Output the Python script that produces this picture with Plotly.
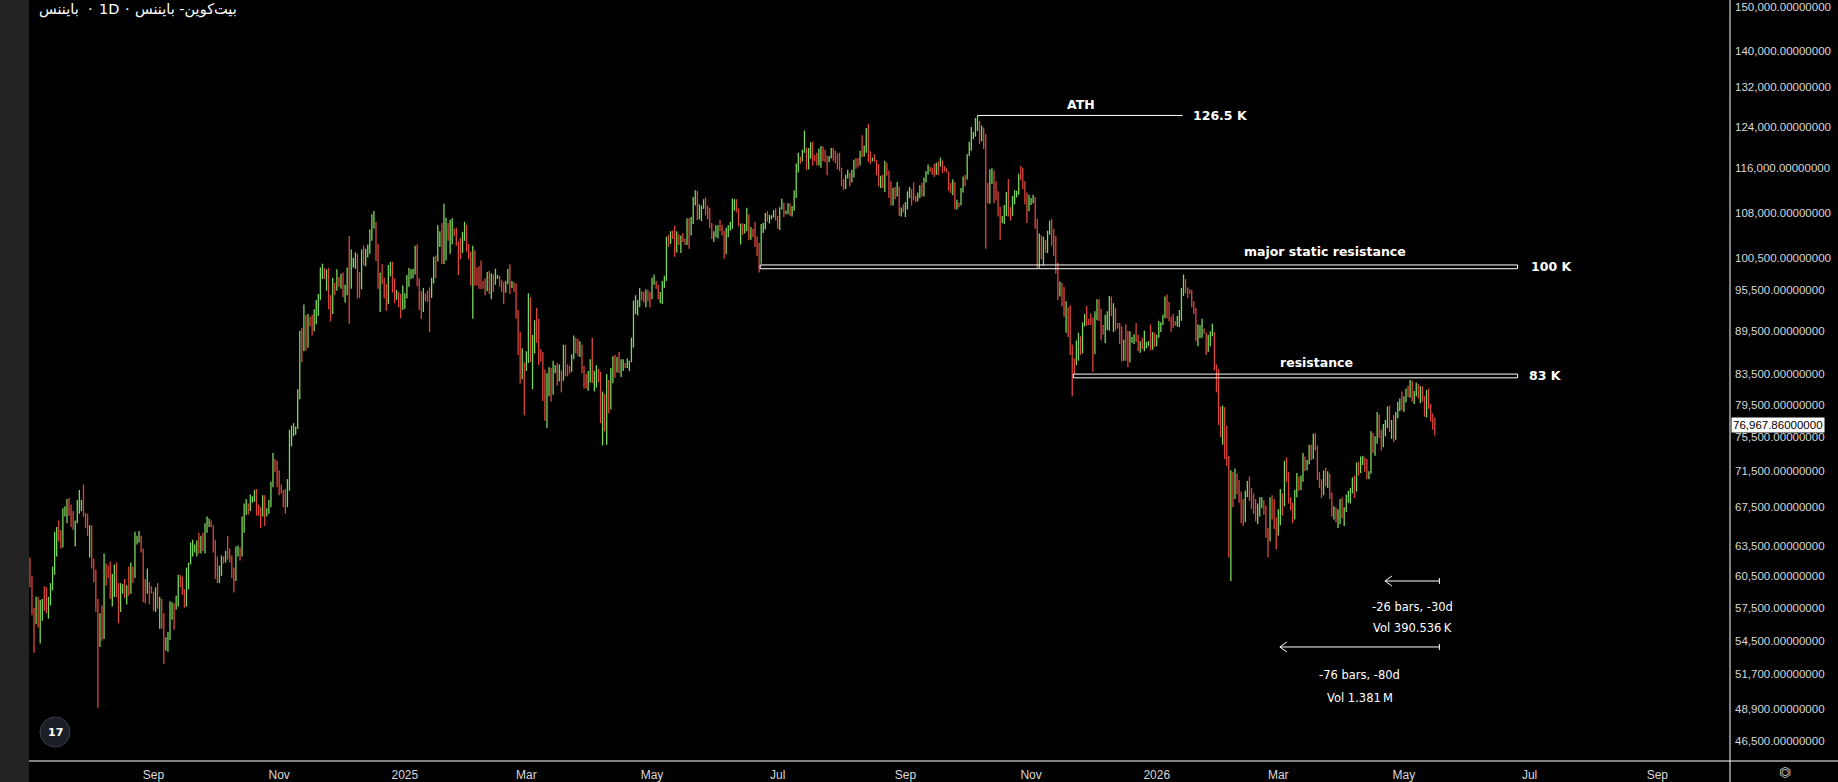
import math
import pandas as pd
import plotly.graph_objects as go

# ---------------- DATA (prices in thousands of USDT) ----------------
first_open = 62.1
month_starts = ["2024-07-03", "2024-08-01", "2024-09-01", "2024-10-01", "2024-11-01", "2024-12-01",
                "2025-01-01", "2025-02-01", "2025-03-01", "2025-04-01", "2025-05-01", "2025-06-01",
                "2025-07-01", "2025-08-01", "2025-09-01", "2025-10-01", "2025-11-01", "2025-12-01",
                "2026-01-01", "2026-02-01", "2026-03-01", "2026-04-01", "2026-05-01"]

c_2024_07 = [60.2, 57.0, 56.6, 58.2, 55.9, 56.7, 58.0, 57.7, 57.3, 57.9, 59.2, 60.8, 64.7, 65.0, 64.1, 63.9, 66.7, 67.2, 68.2, 67.6, 65.9, 65.4, 65.8, 67.9, 68.0, 68.3, 66.8, 66.2, 64.6]
h_2024_07 = [62.3, 60.5, 57.5, 58.5, 58.5, 58.2, 58.3, 59.5, 59.4, 58.5, 59.8, 61.4, 64.9, 65.4, 66.1, 65.1, 67.4, 67.6, 68.4, 68.5, 67.8, 67.1, 66.1, 68.3, 69.4, 68.3, 70.0, 66.9, 66.8]
l_2024_07 = [59.4, 56.8, 53.5, 56.0, 55.7, 54.3, 56.3, 57.2, 57.0, 56.5, 57.7, 59.1, 60.6, 62.4, 63.9, 63.2, 63.3, 66.5, 65.8, 66.6, 65.4, 65.1, 63.4, 65.8, 66.8, 67.1, 66.5, 65.3, 64.5]

c_2024_08 = [65.35, 61.5, 60.7, 58.1, 54.0, 56.0, 55.1, 61.7, 60.9, 60.9, 58.7, 59.35, 60.6, 58.7, 57.6, 58.9, 59.5, 58.4, 59.5, 59.0, 61.2, 60.4, 64.1, 64.2, 64.3, 62.9, 59.4, 59.0, 59.4, 59.1, 58.97]
h_2024_08 = [65.6, 65.6, 62.2, 61.1, 58.3, 57.0, 57.7, 62.7, 61.7, 61.5, 61.9, 60.7, 61.6, 61.8, 59.8, 59.8, 59.7, 60.2, 59.6, 61.4, 61.8, 61.4, 64.9, 64.5, 65.0, 64.5, 63.2, 60.2, 61.2, 59.9, 59.5]
l_2024_08 = [62.3, 61.2, 59.85, 57.1, 49.0, 54.0, 54.55, 54.7, 59.55, 60.3, 58.3, 57.6, 58.5, 58.45, 56.1, 57.1, 58.8, 58.4, 57.8, 58.6, 58.8, 59.8, 60.3, 63.6, 63.8, 62.8, 58.0, 57.9, 58.8, 57.8, 58.8]

c_2024_09 = [57.3, 59.1, 57.5, 57.97, 56.2, 53.95, 54.15, 54.8, 57.0, 57.6, 57.3, 58.1, 60.5, 60.0, 59.1, 58.2, 60.3, 61.8, 62.9, 63.2, 63.35, 63.6, 63.3, 64.3, 63.1, 65.2, 65.8, 65.8, 65.6, 63.3]
h_2024_09 = [59.0, 59.4, 59.8, 58.5, 58.3, 57.0, 54.85, 55.3, 58.1, 58.0, 57.9, 58.6, 60.6, 60.6, 60.4, 59.2, 61.3, 61.8, 63.8, 64.1, 63.6, 64.0, 64.8, 64.5, 64.8, 65.8, 66.5, 66.3, 66.1, 65.6]
l_2024_09 = [57.2, 57.1, 57.4, 55.6, 55.6, 52.55, 53.7, 53.6, 54.6, 56.4, 55.5, 57.3, 57.6, 59.4, 58.7, 57.5, 57.6, 59.2, 61.6, 62.4, 62.8, 62.4, 62.7, 62.7, 62.95, 62.7, 64.8, 65.4, 65.4, 62.8]

c_2024_10 = [60.8, 60.6, 60.75, 62.1, 62.05, 62.8, 62.2, 62.1, 60.6, 60.3, 62.45, 63.2, 62.85, 66.05, 67.0, 67.6, 67.4, 68.4, 68.4, 69.0, 67.4, 67.4, 66.65, 68.2, 66.6, 67.0, 68.0, 69.9, 72.7, 72.3, 70.2]
h_2024_10 = [64.1, 62.4, 61.5, 62.5, 62.4, 62.95, 64.5, 63.2, 62.5, 61.3, 63.4, 63.5, 63.3, 66.5, 67.9, 68.4, 67.9, 68.9, 68.7, 69.4, 69.5, 67.8, 67.5, 68.8, 68.8, 67.4, 68.3, 70.3, 73.6, 72.9, 72.7]
l_2024_10 = [60.2, 59.8, 59.8, 60.5, 61.7, 61.8, 62.1, 61.8, 60.3, 58.9, 60.0, 62.4, 62.0, 62.4, 64.8, 66.7, 66.7, 67.1, 68.0, 68.1, 66.6, 66.6, 65.3, 66.5, 65.5, 66.5, 66.8, 67.5, 69.7, 71.4, 69.7]

c_2024_11 = [69.5, 69.35, 68.8, 67.8, 69.4, 75.6, 75.9, 76.5, 76.7, 80.4, 88.7, 87.95, 90.4, 87.3, 91.0, 90.6, 89.85, 90.5, 92.3, 94.3, 98.3, 98.9, 97.7, 98.0, 93.0, 91.9, 95.9, 95.6, 97.5, 96.4]
h_2024_11 = [71.6, 70.0, 69.4, 69.5, 70.6, 76.4, 76.9, 77.2, 76.8, 81.5, 89.5, 89.9, 93.3, 91.8, 91.9, 91.5, 91.8, 92.6, 94.0, 94.9, 99.0, 99.6, 98.9, 98.7, 98.9, 94.7, 97.4, 96.6, 98.7, 97.5]
l_2024_11 = [68.8, 69.0, 67.5, 66.8, 67.5, 69.3, 74.4, 75.6, 75.8, 76.5, 80.2, 85.1, 86.6, 86.7, 87.1, 90.1, 88.8, 89.4, 90.4, 91.6, 94.0, 97.2, 97.2, 95.4, 92.6, 90.8, 91.9, 94.7, 95.4, 96.0]

c_2024_12 = [97.2, 95.8, 96.0, 98.6, 97.0, 99.9, 99.9, 101.1, 97.4, 96.6, 101.1, 100.0, 101.4, 101.4, 104.3, 106.05, 106.1, 100.2, 97.5, 97.75, 97.3, 95.1, 94.7, 98.7, 99.3, 95.8, 94.2, 95.2, 93.6, 92.8, 93.6]
h_2024_12 = [98.0, 98.2, 96.3, 99.0, 104.1, 101.9, 100.5, 101.4, 101.2, 98.3, 101.9, 102.5, 102.0, 102.7, 105.2, 107.8, 108.35, 106.5, 102.8, 98.2, 99.5, 97.4, 96.4, 99.4, 99.9, 99.9, 97.3, 95.5, 95.2, 94.9, 96.2]
l_2024_12 = [95.7, 94.4, 93.6, 94.7, 90.5, 95.7, 99.0, 98.8, 94.2, 94.3, 95.6, 99.3, 99.2, 100.6, 101.2, 103.3, 105.3, 100.0, 95.7, 92.2, 96.4, 94.2, 92.4, 93.4, 97.6, 95.1, 93.5, 94.0, 92.9, 91.3, 92.5]

c_2025_01 = [94.6, 97.0, 98.1, 98.2, 98.3, 102.2, 96.95, 95.0, 92.5, 94.7, 94.6, 94.5, 94.5, 96.5, 100.5, 99.99, 104.1, 104.5, 101.3, 102.3, 106.1, 103.65, 103.9, 104.8, 104.7, 102.6, 102.1, 101.3, 103.7, 104.7, 102.4]
h_2025_01 = [95.0, 97.8, 98.9, 98.7, 98.8, 102.5, 102.7, 97.3, 95.3, 95.8, 95.0, 95.4, 95.9, 97.4, 100.7, 100.9, 105.9, 104.9, 106.3, 109.6, 107.2, 106.3, 106.85, 107.1, 105.3, 105.5, 103.2, 103.8, 104.8, 106.5, 106.0]
l_2025_01 = [92.7, 94.2, 96.0, 97.2, 97.3, 97.9, 96.1, 92.5, 91.2, 92.2, 93.8, 93.7, 89.3, 94.3, 96.5, 97.3, 99.95, 102.3, 99.5, 99.55, 100.1, 103.3, 101.2, 102.75, 104.1, 102.5, 97.8, 100.3, 101.3, 103.3, 101.55]

c_2025_02 = [100.6, 97.7, 101.4, 97.9, 96.6, 96.5, 96.5, 96.5, 96.5, 97.4, 95.8, 97.9, 96.6, 97.5, 97.6, 96.1, 95.8, 95.5, 96.6, 98.3, 96.1, 96.6, 96.3, 91.5, 88.7, 84.25, 84.7, 84.35]
h_2025_02 = [102.8, 101.5, 102.5, 101.75, 99.0, 99.2, 100.1, 96.9, 97.3, 98.3, 98.5, 98.1, 97.9, 98.8, 97.8, 97.7, 97.0, 96.7, 96.9, 98.8, 99.5, 96.9, 96.7, 96.5, 92.5, 89.3, 87.0, 85.1]
l_2025_02 = [100.3, 96.2, 91.2, 96.15, 96.2, 95.7, 95.6, 95.7, 94.7, 95.3, 94.9, 94.1, 95.2, 96.3, 97.2, 96.0, 95.2, 93.4, 95.1, 96.4, 94.9, 95.8, 95.2, 91.2, 86.1, 82.25, 82.8, 78.2]

c_2025_03 = [86.1, 94.3, 86.1, 87.2, 90.6, 89.9, 86.7, 86.2, 80.7, 78.6, 82.9, 83.7, 81.1, 84.0, 84.3, 82.6, 84.0, 82.7, 86.85, 84.2, 84.1, 83.8, 86.1, 87.5, 87.4, 86.9, 87.2, 84.35, 82.6, 82.3, 82.55]
h_2025_03 = [86.6, 95.0, 94.4, 88.9, 91.0, 92.8, 91.2, 86.9, 86.5, 84.1, 83.6, 84.4, 84.3, 85.3, 84.7, 85.0, 84.8, 84.0, 87.5, 87.5, 84.8, 84.6, 86.2, 88.8, 88.5, 88.3, 88.0, 87.5, 84.6, 83.5, 83.9]
l_2025_03 = [83.9, 85.0, 85.1, 81.5, 86.3, 87.8, 84.7, 85.2, 80.0, 77.5, 76.6, 80.6, 79.9, 80.8, 83.6, 82.0, 82.5, 81.1, 82.6, 83.2, 83.2, 83.6, 83.8, 85.5, 86.3, 85.9, 85.8, 83.6, 81.6, 81.6, 81.3]

c_2025_04 = [85.2, 82.5, 83.1, 83.85, 83.5, 78.4, 79.2, 76.3, 82.6, 79.6, 83.4, 85.3, 83.7, 84.5, 83.6, 84.0, 84.9, 84.45, 85.1, 85.2, 87.5, 93.4, 93.7, 93.9, 94.7, 94.6, 93.75, 95.0, 94.3, 94.2]
h_2025_04 = [85.5, 88.5, 83.9, 84.7, 84.2, 83.8, 81.2, 80.9, 83.5, 82.7, 84.3, 85.9, 86.1, 85.8, 86.5, 85.5, 85.5, 85.0, 85.6, 85.3, 88.5, 93.9, 94.7, 94.0, 95.8, 95.3, 95.2, 95.6, 95.5, 95.2]
l_2025_04 = [82.4, 82.3, 81.2, 81.7, 82.4, 77.2, 74.5, 76.2, 74.6, 78.45, 78.9, 82.3, 83.0, 83.7, 83.6, 83.1, 83.9, 84.3, 84.3, 83.9, 85.1, 87.1, 91.9, 91.7, 92.9, 93.9, 93.6, 92.9, 93.8, 92.9]

c_2025_05 = [96.5, 96.9, 95.9, 94.3, 94.7, 96.8, 97.0, 103.2, 102.95, 104.6, 104.1, 102.8, 104.1, 103.5, 103.7, 103.5, 103.1, 106.45, 105.6, 106.8, 109.6, 111.7, 107.3, 107.8, 109.0, 109.4, 108.9, 107.8, 105.6, 104.0, 104.6]
h_2025_05 = [97.4, 97.9, 96.9, 96.3, 95.2, 96.9, 97.7, 104.0, 104.3, 104.9, 105.0, 105.8, 104.9, 104.4, 104.2, 104.6, 103.7, 107.1, 107.1, 107.3, 110.8, 112.0, 111.9, 109.5, 109.3, 110.4, 110.7, 109.3, 108.9, 106.3, 104.9]
l_2025_05 = [94.1, 96.3, 95.7, 94.1, 93.5, 93.4, 95.8, 96.9, 102.3, 102.8, 103.6, 100.7, 101.4, 102.6, 101.3, 103.1, 102.6, 102.6, 102.0, 104.2, 106.1, 109.3, 106.8, 106.9, 106.6, 108.7, 107.6, 106.9, 105.4, 103.6, 103.1]

c_2025_06 = [105.7, 105.8, 105.4, 104.7, 101.5, 104.3, 105.6, 105.7, 110.3, 110.3, 108.6, 105.7, 106.0, 105.4, 105.6, 106.8, 104.55, 104.9, 104.65, 103.3, 102.1, 101.0, 105.4, 106.0, 107.3, 106.95, 107.0, 107.3, 108.4, 107.1]
h_2025_06 = [105.9, 105.9, 106.8, 106.0, 105.0, 105.5, 105.9, 106.5, 110.5, 110.4, 110.4, 108.8, 106.2, 106.2, 106.1, 108.9, 107.8, 105.6, 105.3, 106.5, 104.0, 103.0, 106.1, 106.3, 108.0, 108.3, 107.7, 107.6, 108.5, 108.8]
l_2025_06 = [103.9, 103.7, 104.9, 104.2, 100.4, 101.1, 103.9, 105.0, 105.3, 108.4, 108.1, 105.7, 102.7, 104.3, 104.5, 104.9, 103.4, 103.5, 103.9, 102.3, 100.8, 98.2, 99.6, 104.6, 105.2, 106.5, 106.2, 106.9, 107.2, 106.7]

c_2025_07 = [105.7, 108.8, 109.6, 108.0, 108.2, 109.2, 108.2, 108.9, 111.3, 115.9, 117.5, 117.4, 119.1, 119.8, 117.7, 118.8, 119.3, 117.9, 117.9, 117.3, 117.4, 119.95, 118.75, 118.3, 117.6, 117.9, 119.4, 118.0, 117.9, 117.8, 115.8]
h_2025_07 = [107.5, 109.0, 110.5, 109.8, 108.45, 109.7, 109.7, 109.2, 112.0, 116.9, 118.9, 118.2, 119.5, 123.2, 119.9, 119.8, 120.9, 121.0, 118.5, 118.9, 119.7, 120.2, 120.1, 119.5, 118.4, 118.3, 119.8, 119.8, 119.3, 118.8, 118.9]
l_2025_07 = [105.3, 105.1, 108.6, 107.3, 107.8, 107.8, 107.5, 107.4, 108.4, 110.6, 115.2, 116.9, 117.3, 118.9, 115.7, 115.8, 117.8, 116.5, 117.3, 116.5, 116.5, 116.1, 117.3, 117.1, 114.7, 117.1, 117.8, 117.4, 116.95, 115.8, 115.5]

c_2025_08 = [113.3, 112.5, 114.2, 115.0, 114.1, 115.0, 117.5, 116.6, 116.5, 119.3, 118.7, 120.1, 123.3, 118.3, 117.4, 117.5, 117.4, 116.2, 112.9, 114.3, 112.5, 116.9, 115.4, 113.5, 110.1, 111.8, 111.2, 112.6, 108.4, 108.8, 108.2]
h_2025_08 = [116.1, 114.0, 114.8, 115.7, 115.1, 115.7, 117.6, 117.9, 117.9, 119.3, 122.3, 120.3, 123.7, 124.5, 119.2, 118.0, 118.6, 117.5, 116.8, 114.6, 114.8, 117.4, 117.0, 115.6, 113.6, 112.4, 112.6, 113.5, 112.65, 108.95, 109.5]
l_2025_08 = [112.7, 112.0, 112.2, 114.1, 112.65, 113.4, 114.3, 115.9, 116.3, 116.5, 118.1, 118.2, 118.9, 117.2, 116.8, 117.3, 117.2, 114.7, 112.7, 112.4, 112.4, 111.7, 114.6, 110.6, 109.3, 109.3, 110.4, 110.9, 107.5, 107.4, 108.1]

c_2025_09 = [109.25, 111.2, 111.7, 110.7, 110.7, 110.2, 111.1, 112.0, 111.5, 113.9, 115.4, 116.1, 115.9, 115.3, 115.3, 116.8, 116.5, 117.0, 115.7, 115.7, 115.2, 112.7, 112.0, 113.3, 109.0, 109.7, 109.6, 112.1, 114.4, 114.05]
h_2025_09 = [109.9, 111.8, 112.6, 112.2, 113.4, 111.0, 111.6, 112.9, 113.3, 114.3, 115.5, 116.7, 116.3, 116.1, 116.8, 117.0, 117.3, 118.0, 117.45, 116.4, 116.0, 115.4, 113.3, 114.0, 113.5, 110.3, 109.8, 112.4, 114.5, 114.8]
l_2025_09 = [107.3, 108.6, 110.6, 109.3, 110.2, 109.9, 110.0, 110.6, 110.9, 110.9, 113.4, 114.8, 115.3, 114.8, 114.4, 114.8, 114.7, 116.3, 115.1, 115.4, 115.2, 111.9, 111.5, 111.1, 108.6, 108.6, 109.0, 109.3, 111.6, 112.7]

c_2025_10 = [118.6, 120.6, 122.3, 122.4, 123.5, 124.7, 121.4, 123.3, 121.7, 113.0, 110.6, 115.2, 115.3, 113.1, 110.8, 108.2, 106.4, 107.2, 108.6, 110.6, 108.5, 107.6, 110.1, 111.0, 111.6, 114.5, 114.1, 112.9, 110.0, 108.3, 109.6]
h_2025_10 = [118.6, 121.0, 123.9, 122.9, 125.7, 126.2, 125.1, 124.2, 123.8, 122.5, 113.3, 115.8, 116.0, 115.6, 113.6, 111.8, 109.1, 107.5, 109.4, 111.7, 114.0, 109.0, 111.0, 112.0, 111.9, 115.0, 116.4, 116.1, 113.6, 111.6, 111.2]
l_2025_10 = [113.95, 118.3, 119.3, 121.5, 122.0, 123.1, 120.6, 121.1, 119.6, 102.0, 109.7, 109.6, 113.1, 109.7, 110.2, 107.4, 103.5, 106.3, 106.1, 107.5, 107.4, 106.7, 107.5, 109.5, 110.7, 111.2, 113.8, 112.2, 109.5, 106.3, 108.6]

c_2025_11 = [110.1, 110.6, 106.5, 101.5, 103.9, 101.3, 103.3, 102.3, 104.7, 106.0, 103.0, 101.7, 99.7, 94.5, 95.6, 94.3, 92.2, 92.7, 91.5, 86.6, 85.1, 84.7, 86.8, 88.3, 87.4, 90.5, 91.3, 90.9, 90.8, 90.4]
h_2025_11 = [110.6, 111.2, 110.8, 107.0, 104.5, 104.2, 104.0, 103.4, 105.0, 106.7, 107.0, 105.3, 104.1, 99.8, 96.8, 96.6, 96.0, 93.8, 92.9, 93.2, 87.5, 85.6, 88.1, 89.2, 88.7, 90.7, 91.9, 93.1, 91.2, 92.0]
l_2025_11 = [109.4, 109.7, 105.3, 98.9, 98.9, 100.3, 99.3, 101.4, 101.3, 104.3, 102.5, 100.8, 98.0, 94.0, 94.5, 93.0, 91.5, 89.2, 88.6, 86.1, 80.6, 83.5, 84.7, 85.3, 86.1, 86.3, 90.1, 90.2, 90.3, 90.3]

c_2025_12 = [86.3, 91.3, 93.4, 92.1, 89.4, 89.3, 90.4, 90.6, 92.7, 92.0, 92.5, 90.3, 90.3, 88.2, 86.4, 87.8, 86.1, 85.5, 88.1, 88.3, 88.6, 88.5, 87.4, 87.6, 87.2, 87.3, 87.8, 87.8, 87.1, 88.4, 87.6]
h_2025_12 = [91.4, 92.3, 94.1, 94.1, 92.7, 90.3, 91.8, 92.3, 94.6, 94.5, 93.5, 92.8, 90.6, 90.6, 90.1, 88.2, 90.4, 89.5, 89.4, 88.6, 89.0, 90.6, 88.9, 88.0, 88.5, 89.5, 87.9, 88.0, 90.4, 89.3, 89.2]
l_2025_12 = [83.8, 86.2, 91.0, 90.9, 88.1, 88.9, 87.7, 89.6, 89.5, 91.6, 89.3, 89.5, 89.8, 87.6, 85.2, 85.3, 85.3, 84.4, 85.1, 87.8, 87.6, 87.9, 86.6, 86.4, 86.9, 86.6, 87.0, 87.3, 86.7, 86.8, 87.2]

c_2026_01 = [88.7, 89.9, 90.6, 91.5, 93.9, 93.7, 91.3, 91.0, 90.5, 90.4, 90.8, 91.2, 95.4, 96.9, 95.6, 95.5, 95.1, 93.6, 92.6, 88.3, 89.4, 89.5, 89.5, 89.2, 86.6, 88.3, 89.2, 89.2, 84.6, 84.2, 78.6]
h_2026_01 = [88.9, 90.9, 90.7, 91.8, 94.5, 94.8, 93.7, 91.5, 91.9, 90.9, 91.6, 92.5, 95.8, 97.9, 97.2, 95.9, 95.6, 95.5, 93.8, 92.8, 90.4, 90.3, 91.2, 89.8, 89.2, 88.9, 89.4, 90.5, 89.3, 84.8, 84.2]
l_2026_01 = [87.3, 88.5, 89.3, 90.3, 91.3, 91.3, 90.8, 89.3, 89.9, 90.2, 90.1, 90.0, 90.9, 94.6, 95.0, 94.3, 94.9, 92.9, 91.9, 88.0, 87.3, 88.4, 88.5, 89.1, 86.1, 86.5, 87.3, 88.7, 84.0, 81.1, 77.0]

c_2026_02 = [76.9, 78.7, 75.6, 73.0, 62.9, 70.5, 69.1, 70.5, 70.1, 68.8, 67.0, 66.2, 68.9, 69.8, 68.8, 68.7, 67.6, 66.6, 67.1, 68.0, 68.1, 67.3, 64.8, 64.1, 67.9, 67.5, 65.9, 65.4]
h_2026_02 = [79.3, 79.4, 79.2, 76.9, 73.3, 71.6, 71.4, 71.8, 71.2, 70.5, 69.2, 68.4, 69.3, 70.4, 70.9, 69.6, 69.0, 68.4, 67.9, 68.6, 68.6, 68.3, 67.7, 65.3, 68.6, 68.8, 68.4, 66.4]
l_2026_02 = [75.5, 74.6, 72.9, 72.1, 62.3, 60.0, 67.5, 68.4, 68.9, 68.0, 65.8, 65.5, 65.9, 68.6, 68.2, 67.3, 66.8, 66.0, 65.7, 66.5, 67.4, 66.7, 64.3, 62.3, 63.9, 66.2, 65.2, 63.1]

c_2026_03 = [66.3, 68.8, 67.8, 72.2, 70.9, 68.2, 67.6, 67.1, 68.8, 70.4, 69.8, 70.6, 72.9, 71.9, 72.5, 74.0, 73.2, 75.3, 74.2, 70.9, 70.2, 69.0, 71.2, 70.3, 71.0, 68.8, 66.9, 67.2, 66.3, 66.9, 68.1]
h_2026_03 = [67.3, 69.5, 69.0, 72.7, 73.1, 71.4, 68.6, 68.0, 69.4, 71.3, 70.9, 71.0, 73.6, 73.2, 72.8, 74.6, 74.6, 75.9, 76.0, 74.5, 71.4, 70.6, 71.6, 71.9, 71.5, 71.2, 69.1, 67.6, 67.5, 67.3, 68.4]
l_2026_03 = [64.5, 65.6, 66.6, 67.6, 70.3, 67.9, 67.2, 65.8, 66.2, 68.6, 69.3, 69.4, 70.3, 71.5, 71.6, 72.3, 72.8, 72.9, 73.9, 70.5, 69.6, 68.5, 68.8, 69.8, 69.6, 68.4, 66.5, 66.2, 65.9, 65.3, 65.7]

c_2026_04 = [66.8, 67.3, 68.6, 68.9, 69.3, 70.4, 69.4, 72.1, 71.6, 72.8, 73.0, 71.7, 71.0, 71.3, 75.6, 74.1, 75.2, 77.9, 76.0, 74.6, 76.5, 77.2, 78.8, 76.6, 77.0, 75.6, 78.3, 79.4, 79.9, 79.2]
h_2026_04 = [68.6, 67.5, 68.9, 69.3, 69.6, 70.8, 71.0, 72.5, 72.6, 73.2, 73.3, 73.1, 72.9, 71.5, 76.2, 76.0, 75.6, 78.6, 78.3, 76.4, 77.1, 77.6, 79.3, 79.4, 77.6, 78.2, 78.6, 79.9, 80.3, 81.2]
l_2026_04 = [66.3, 65.5, 67.0, 68.0, 67.9, 69.0, 68.5, 69.2, 71.0, 71.3, 72.2, 71.4, 70.6, 70.6, 71.2, 73.6, 73.3, 74.7, 75.4, 73.9, 74.3, 75.6, 76.6, 76.1, 75.3, 74.9, 75.2, 77.8, 78.7, 78.8]

c_2026_05 = [80.3, 81.2, 80.8, 82.3, 80.3, 81.0, 81.9, 80.8, 81.6, 80.3, 78.3, 81.2, 79.3, 77.8, 77.5, 76.96786]
h_2026_05 = [80.6, 81.6, 82.0, 82.7, 82.6, 81.3, 82.4, 82.2, 81.9, 81.9, 80.6, 81.4, 81.6, 79.6, 78.4, 77.9]
l_2026_05 = [78.6, 79.8, 80.5, 80.4, 79.9, 79.6, 80.6, 80.3, 79.7, 79.9, 78.0, 77.9, 79.0, 77.4, 76.4, 75.7]

# annotation levels (USDT)
ath_price = 126200
major_res_top, major_res_bottom = 99400, 98800
res_top, res_bottom = 83500, 83000
last_price = 76967.86
ruler1_price, ruler2_price = 60000, 54000

# axis ticks
y_ticks = [150000, 140000, 132000, 124000, 116000, 108000, 100500, 95500, 89500, 83500, 79500,
           75500, 71500, 67500, 63500, 60500, 57500, 54500, 51700, 48900, 46500]
x_tick_dates = ["2024-09-01", "2024-11-01", "2025-01-01", "2025-03-01", "2025-05-01", "2025-07-01",
                "2025-09-01", "2025-11-01", "2026-01-01", "2026-03-01", "2026-05-01", "2026-07-01", "2026-09-01"]
x_tick_text = ["Sep", "Nov", "2025", "Mar", "May", "Jul", "Sep", "Nov", "2026", "Mar", "May", "Jul", "Sep"]

# title pieces (left to right as displayed)
title_left = "بایننس"
title_interval = "1D"
title_right = "بیت\u200cکوین- بایننس"

# ---------------- BUILD ----------------
monthly = [
    (c_2024_07, h_2024_07, l_2024_07), (c_2024_08, h_2024_08, l_2024_08), (c_2024_09, h_2024_09, l_2024_09),
    (c_2024_10, h_2024_10, l_2024_10), (c_2024_11, h_2024_11, l_2024_11), (c_2024_12, h_2024_12, l_2024_12),
    (c_2025_01, h_2025_01, l_2025_01), (c_2025_02, h_2025_02, l_2025_02), (c_2025_03, h_2025_03, l_2025_03),
    (c_2025_04, h_2025_04, l_2025_04), (c_2025_05, h_2025_05, l_2025_05), (c_2025_06, h_2025_06, l_2025_06),
    (c_2025_07, h_2025_07, l_2025_07), (c_2025_08, h_2025_08, l_2025_08), (c_2025_09, h_2025_09, l_2025_09),
    (c_2025_10, h_2025_10, l_2025_10), (c_2025_11, h_2025_11, l_2025_11), (c_2025_12, h_2025_12, l_2025_12),
    (c_2026_01, h_2026_01, l_2026_01), (c_2026_02, h_2026_02, l_2026_02), (c_2026_03, h_2026_03, l_2026_03),
    (c_2026_04, h_2026_04, l_2026_04), (c_2026_05, h_2026_05, l_2026_05),
]
dates, closes, highs, lows = [], [], [], []
for start, (c, h, l) in zip(month_starts, monthly):
    n = min(len(c), len(h), len(l))
    dates += list(pd.date_range(start, periods=n, freq="D"))
    closes += [v * 1000 for v in c[:n]]
    highs += [v * 1000 for v in h[:n]]
    lows += [v * 1000 for v in l[:n]]
opens = [first_open * 1000] + closes[:-1]
highs = [max(h, o, c) for h, o, c in zip(highs, opens, closes)]
lows = [min(l, o, c) for l, o, c in zip(lows, opens, closes)]

# layout geometry (pixels)
W, H = 1838, 782
ML, MR, MT, MB = 29, 108, 0, 21
PW, PH = W - ML - MR, H - MT - MB
PX_PER_DAY = 2.06
PX_PER_LN = 626.2

def dshift(date_str, px):
    return pd.Timestamp(date_str) + pd.Timedelta(days=px / PX_PER_DAY)

def pshift(price, px):
    return price * math.exp(px / PX_PER_LN)

x_left = pd.Timestamp("2024-07-02 13:26")
x_right = pd.Timestamp("2026-10-06 07:00")
y_lo, y_hi = 45010, 151760

GREEN = "#7ad65e"
RED = "#dc473d"
WHITE = "#ffffff"

fig = go.Figure()
fig.add_trace(go.Ohlc(
    x=dates, open=opens, high=highs, low=lows, close=closes,
    increasing=dict(line=dict(color=GREEN, width=1.3)),
    decreasing=dict(line=dict(color=RED, width=1.3)),
    tickwidth=0, showlegend=False, hoverinfo="skip",
))

def add_line(xs, ys, width=1):
    fig.add_trace(go.Scatter(x=xs, y=ys, mode="lines", line=dict(color=WHITE, width=width),
                             showlegend=False, hoverinfo="skip"))

# ATH line
ath_start, ath_end = "2025-10-06", "2026-01-13 14:00"
add_line([ath_start, ath_end], [ath_price, ath_price])

# resistance boxes
box_end = "2026-06-25 04:00"
major_start = "2025-06-22 12:00"
res_start = "2025-11-21 14:00"
add_line([major_start, box_end, box_end, major_start, major_start],
         [major_res_top, major_res_top, major_res_bottom, major_res_bottom, major_res_top])
add_line([res_start, box_end, box_end, res_start, res_start],
         [res_top, res_top, res_bottom, res_bottom, res_top])

# measurement rulers
ruler_end = "2026-05-18 05:00"
ruler1_start = "2026-04-21 19:00"
ruler2_start = "2026-03-01 19:00"
for start, price in [(ruler1_start, ruler1_price), (ruler2_start, ruler2_price)]:
    add_line([start, ruler_end], [price, price])
    add_line([ruler_end, ruler_end], [pshift(price, -3), pshift(price, 3)])
    add_line([dshift(start, 7), start, dshift(start, 7)],
             [pshift(price, 5), price, pshift(price, -5)])

lab_font = dict(family="DejaVu Sans", size=12.5, color=WHITE)
ann = []
def lg(p):
    return math.log10(p)

ann.append(dict(x="2025-11-25", y=lg(ath_price), yshift=11, text="<b>ATH</b>", showarrow=False, font=lab_font))
ann.append(dict(x=ath_end, y=lg(ath_price), xshift=8, xanchor="left", text="<b>126.5 K</b>", showarrow=False, font=lab_font))
ann.append(dict(x="2026-03-23 16:00", y=lg(major_res_top), yshift=13, text="<b>major static resistance</b>",
                showarrow=False, font=lab_font))
ann.append(dict(x=box_end, y=lg((major_res_top + major_res_bottom) / 2), xshift=11, xanchor="left",
                text="<b>100 K</b>", showarrow=False, font=lab_font))
ann.append(dict(x="2026-03-19 19:00", y=lg(res_top), yshift=12, text="<b>resistance</b>", showarrow=False, font=lab_font))
ann.append(dict(x=box_end, y=lg((res_top + res_bottom) / 2), xshift=9, xanchor="left",
                text="<b>83 K</b>", showarrow=False, font=lab_font))

rl_font = dict(family="DejaVu Sans", size=11.5, color=WHITE)
r1_mid = pd.Timestamp(ruler1_start) + (pd.Timestamp(ruler_end) - pd.Timestamp(ruler1_start)) / 2
r2_mid = pd.Timestamp(ruler2_start) + (pd.Timestamp(ruler_end) - pd.Timestamp(ruler2_start)) / 2
ann.append(dict(x=r1_mid, y=lg(ruler1_price), yshift=-26, text="-26 bars, -30d", showarrow=False, font=rl_font))
ann.append(dict(x=r1_mid, y=lg(ruler1_price), yshift=-47, text="Vol 390.536\u2009K", showarrow=False, font=rl_font))
ann.append(dict(x=r2_mid, y=lg(ruler2_price), yshift=-28, text="-76 bars, -80d", showarrow=False, font=rl_font))
ann.append(dict(x=r2_mid, y=lg(ruler2_price), yshift=-51, text="Vol 1.381\u2009M", showarrow=False, font=rl_font))

# last price tag
ann.append(dict(xref="paper", x=1, xshift=1, xanchor="left", y=lg(last_price), yanchor="middle",
                text=f"{last_price:,.8f}", showarrow=False, bgcolor="#ffffff", borderpad=1,
                font=dict(family="Liberation Sans", size=11.5, color="#000000")))

# title (separate pieces so the mixed-direction text keeps its displayed order)
title_font = dict(family="DejaVu Sans", size=14.5, color=WHITE)
ty = (PH - 9) / PH
def title_piece(text, px, anchor):
    ann.append(dict(xref="paper", yref="paper", x=(px - ML) / PW, y=ty, xanchor=anchor, yanchor="middle",
                    text=text, showarrow=False, font=title_font))
title_piece(title_left, 37, "left")
title_piece("·", 90, "center")
title_piece(title_interval, 109, "center")
title_piece("·", 127, "center")
title_piece(title_right, 239, "right")

# settings icon and logo text
ann.append(dict(xref="paper", yref="paper", x=(1785 - ML) / PW, y=(PH - 772) / PH, xanchor="center", yanchor="middle",
                text="⏣", showarrow=False, font=dict(family="DejaVu Sans", size=14, color="#cfcfcf")))
ann.append(dict(xref="paper", yref="paper", x=(55 - ML) / PW, y=(PH - 732) / PH, xanchor="center", yanchor="middle",
                text="<b>17</b>", showarrow=False, font=dict(family="DejaVu Sans", size=11, color=WHITE)))

for a in ann:
    a.setdefault("xref", "x")
    a.setdefault("yref", "y")

shapes = [
    dict(type="rect", xref="paper", yref="paper", x0=-ML / PW, x1=0, y0=-MB / PH, y1=1,
         fillcolor="#232323", line=dict(width=0), layer="below"),
    dict(type="line", xref="paper", yref="paper", x0=0, x1=(W - ML) / PW, y0=0, y1=0,
         line=dict(color=WHITE, width=1)),
    dict(type="line", xref="paper", yref="paper", x0=1, x1=1, y0=-MB / PH, y1=1,
         line=dict(color=WHITE, width=1)),
    dict(type="circle", xref="paper", yref="paper", x0=(40 - ML) / PW, x1=(70 - ML) / PW,
         y0=(PH - 747) / PH, y1=(PH - 717) / PH, fillcolor="#1c1f26", line=dict(color="#3a3d44", width=1)),
]

fig.update_layout(
    width=W, height=H,
    margin=dict(l=ML, r=MR, t=MT, b=MB, pad=0),
    paper_bgcolor="#000000", plot_bgcolor="#000000",
    showlegend=False, hovermode=False,
    shapes=shapes, annotations=ann,
    xaxis=dict(type="date", range=[x_left, x_right], rangeslider=dict(visible=False),
               showgrid=False, zeroline=False, showline=False, ticks="",
               tickmode="array", tickvals=x_tick_dates, ticktext=x_tick_text,
               ticklabelstandoff=5,
               tickfont=dict(family="Liberation Sans", size=12, color="#d9d9d9")),
    yaxis=dict(type="log", range=[math.log10(y_lo), math.log10(y_hi)], side="right",
               showgrid=False, zeroline=False, showline=False, ticks="",
               tickmode="array", tickvals=y_ticks, ticktext=[f"{v:,.8f}" for v in y_ticks],
               ticklabelstandoff=4,
               tickfont=dict(family="Liberation Sans", size=11.5, color="#d9d9d9")),
)

fig.write_html("out.html", config={"displayModeBar": False},
               post_script="document.body.style.margin='0';document.body.style.overflow='hidden';")
